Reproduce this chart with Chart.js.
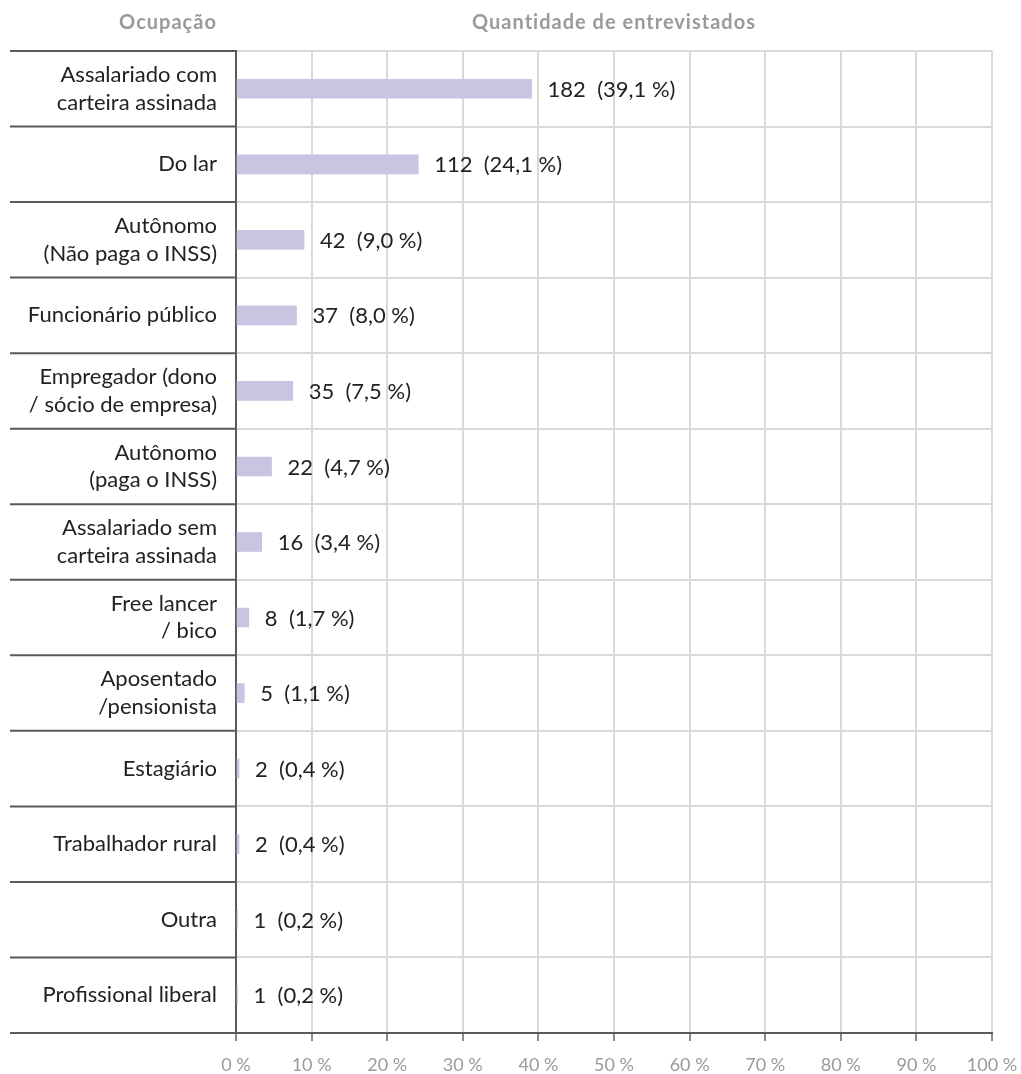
<!DOCTYPE html>
<html>
<head>
<meta charset="utf-8">
<script src="https://cdn.jsdelivr.net/npm/chart.js@4/dist/chart.umd.min.js"></script>
<style>
  html, body { margin: 0; padding: 0; background: #fff; }
  #wrap { width: 1021px; height: 1074px; }
</style>
</head>
<body>
<div id="wrap"><canvas id="chart" width="1021" height="1074"></canvas></div>
<script>
// Occupation of respondents
const categories = [
    ['Assalariado com', 'carteira assinada'],
    'Do lar',
    ['Autônomo', '(Não paga o INSS)'],
    'Funcionário público',
    ['Empregador (dono', '/ sócio de empresa)'],
    ['Autônomo', '(paga o INSS)'],
    ['Assalariado sem', 'carteira assinada'],
    ['Free lancer', '/ bico'],
    ['Aposentado', '/pensionista'],
    'Estagiário',
    'Trabalhador rural',
    'Outra',
    'Profissional liberal',
];
const counts = [182, 112, 42, 37, 35, 22, 16, 8, 5, 2, 2, 1, 1];
const percents = [39.1, 24.1, 9.0, 8.0, 7.5, 4.7, 3.4, 1.7, 1.1, 0.4, 0.4, 0.2, 0.2];
const xTicks = [0, 10, 20, 30, 40, 50, 60, 70, 80, 90, 100];

const FONT = 'Lato, "Open Sans", sans-serif';
const DARK = '#5a5a5a';
const LIGHT = '#d9d9d9';

function fmtPct(v) {
    return v.toFixed(1).replace('.', ',') + ' %';
}

// dark row separators in the label column, headers, x tick labels and value labels
const decorations = {
    id: 'decorations',
    afterDraw(chart) {
        const ctx = chart.ctx;
        const area = chart.chartArea;
        const y = chart.scales.y;
        const x = chart.scales.x;

        // boundaries between categories
        const bounds = [area.top];
        for (let i = 0; i < categories.length - 1; i++) {
            bounds.push((y.getPixelForTick(i) + y.getPixelForTick(i + 1)) / 2);
        }
        bounds.push(area.bottom);
        ctx.save();
        ctx.strokeStyle = DARK;
        ctx.lineWidth = 2;
        bounds.forEach(b => {
            ctx.beginPath();
            ctx.moveTo(10, b);
            ctx.lineTo(area.left, b);
            ctx.stroke();
        });

        // headers
        ctx.fillStyle = '#9a9a9a';
        ctx.font = 'bold 20px ' + FONT;
        ctx.letterSpacing = '1px';
        ctx.textAlign = 'center';
        ctx.textBaseline = 'middle';
        ctx.fillText('Ocupação', 168, 23);
        ctx.fillText('Quantidade de entrevistados', (area.left + area.right) / 2, 23);
        ctx.letterSpacing = '0px';

        // x tick labels
        ctx.font = '18px ' + FONT;
        xTicks.forEach(v => {
            ctx.fillText(v + ' %', x.getPixelForValue(v), area.bottom + 32);
        });

        // value labels next to each bar
        ctx.fillStyle = '#222';
        ctx.font = '22px ' + FONT;
        ctx.textAlign = 'left';
        const meta = chart.getDatasetMeta(0);
        meta.data.forEach((bar, i) => {
            ctx.fillText(counts[i] + '  (' + fmtPct(percents[i]) + ')', bar.x + 16, bar.y + 1);
        });
        ctx.restore();
    }
};

new Chart(document.getElementById('chart'), {
    type: 'bar',
    data: {
        labels: categories,
        datasets: [{
            data: percents,
            backgroundColor: '#c8c4e2',
            barThickness: 19,
        }],
    },
    options: {
        indexAxis: 'y',
        responsive: false,
        animation: false,
        layout: { padding: { top: 51, left: 10, right: 29, bottom: 0 } },
        plugins: {
            legend: { display: false },
            tooltip: { enabled: false },
        },
        scales: {
            x: {
                min: 0,
                max: 100,
                afterBuildTicks(scale) {
                    scale.ticks = xTicks.map(v => ({ value: v }));
                },
                afterFit(scale) { scale.height = 41; },
                grid: {
                    color: LIGHT,
                    lineWidth: 2,
                    tickColor: '#8a8a8a',
                    tickLength: 8,
                },
                border: { color: DARK, width: 2 },
                ticks: { display: false },
            },
            y: {
                afterFit(scale) {
                    scale.width = 226;
                    scale.paddingTop = 0;
                    scale.paddingBottom = 0;
                },
                grid: {
                    color: LIGHT,
                    lineWidth: 2,
                    drawTicks: false,
                },
                border: { color: DARK, width: 2 },
                ticks: {
                    color: '#222',
                    font: { family: FONT, size: 22, lineHeight: 1.25 },
                    padding: 19,
                    autoSkip: false,
                },
            },
        },
    },
    plugins: [decorations],
});
</script>
</body>
</html>
